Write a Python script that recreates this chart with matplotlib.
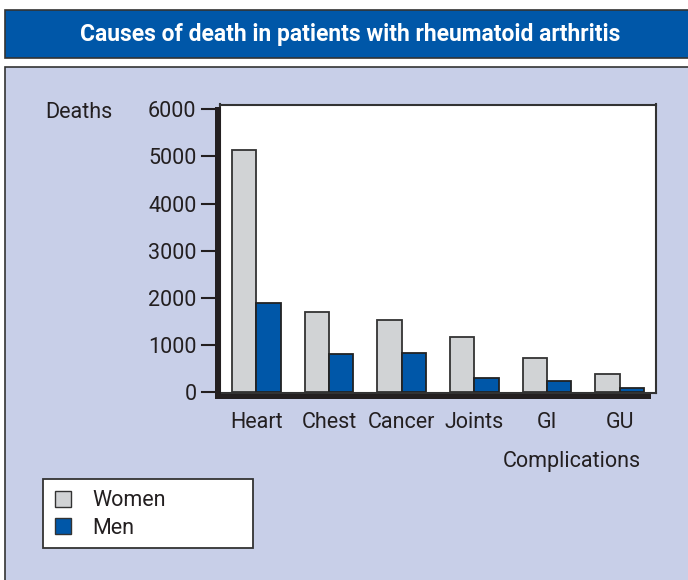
import matplotlib
matplotlib.use("Agg")
import matplotlib.pyplot as plt
from matplotlib.patches import Rectangle
import numpy as np

categories = ["Heart", "Chest", "Cancer", "Joints", "GI", "GU"]
women = [5140, 1700, 1540, 1170, 730, 390]
men = [1900, 820, 840, 310, 240, 100]
yticks = [0, 1000, 2000, 3000, 4000, 5000, 6000]
title = "Causes of death in patients with rheumatoid arthritis"

FONT = ["Roboto", "DejaVu Sans"]
plt.rcParams['font.family'] = FONT

W, H = 688, 580
fig = plt.figure(figsize=(W / 100, H / 100), dpi=100)
fig.patch.set_facecolor("white")

BLUE = "#0057a8"
GRAY = "#d1d3d5"
PANEL = "#c8cfe8"
DARK = "#231f20"

def fx(px):
    return px / W

def fy(py):
    return 1 - py / H

# title banner
fig.patches.append(Rectangle((fx(5), fy(58)), fx(690) - fx(5), fy(10) - fy(58),
                             transform=fig.transFigure, facecolor=BLUE,
                             edgecolor="#333333", linewidth=1.2, zorder=0))
fig.text(fx(350), fy(35), title, color="white", fontsize=16.5, fontweight="bold",
         ha="center", va="center", family=FONT, zorder=5)

# panel
fig.patches.append(Rectangle((fx(5), fy(582)), fx(690) - fx(5), fy(67) - fy(582),
                             transform=fig.transFigure, facecolor=PANEL,
                             edgecolor="#333333", linewidth=1.2, zorder=0))

# axes
left, right, top, bottom = 220, 656, 104.5, 393
ax = fig.add_axes([fx(left), fy(bottom), fx(right) - fx(left), fy(top) - fy(bottom)])
ax.set_zorder(2)
ax.set_facecolor("white")
for s in ax.spines.values():
    s.set_color("#333333")
    s.set_linewidth(1.5)

x = np.arange(len(categories))
bw = 0.335
ax.bar(x - bw / 2, women, width=bw, color=GRAY, edgecolor="#333333", linewidth=1.3, label="Women")
ax.bar(x + bw / 2, men, width=bw, color=BLUE, edgecolor="#222222", linewidth=1.3, label="Men")

ax.set_xlim(-0.5, len(categories) - 0.5)
ymax = 6000 * (bottom - top) / (392.3 - 109.3)
y0 = -6000 * (bottom - 392.3) / (392.3 - 109.3)
ax.set_ylim(y0, ymax + y0)
ax.set_yticks(yticks)
ax.set_yticklabels([str(t) for t in yticks], fontsize=15.5, color=DARK)
ax.tick_params(axis="y", length=0, pad=17)
ax.set_xticks(x)
ax.set_xticklabels(categories, fontsize=15.5, color=DARK)
ax.tick_params(axis="x", length=0, pad=14)

# thick shadowed left and bottom axis
fig.patches.append(Rectangle((fx(215), fy(399)), fx(221) - fx(215), fy(107) - fy(399),
                             transform=fig.transFigure, facecolor=DARK, edgecolor="none", zorder=10))
fig.patches.append(Rectangle((fx(215), fy(399)), fx(651) - fx(215), fy(393.5) - fy(399),
                             transform=fig.transFigure, facecolor=DARK, edgecolor="none", zorder=10))
# tick marks
fig.canvas.draw()
for t in yticks:
    yd = ax.transData.transform((0, t))[1]
    yp = H - yd
    fig.lines.append(plt.Line2D([fx(202), fx(215)], [fy(yp), fy(yp)],
                                transform=fig.transFigure, color=DARK, linewidth=1.5, zorder=10))

fig.text(fx(45), fy(113), "Deaths", fontsize=15.5, color=DARK, ha="left", va="center", zorder=5)
fig.text(fx(572), fy(462), "Complications", fontsize=15.5, color=DARK, ha="center", va="center", zorder=5)

# legend box
fig.patches.append(Rectangle((fx(43), fy(548)), fx(253) - fx(43), fy(479) - fy(548),
                             transform=fig.transFigure, facecolor="white",
                             edgecolor="#333333", linewidth=1.3, zorder=3))
for i, (lab, col) in enumerate([("Women", GRAY), ("Men", BLUE)]):
    yc = 499 + i * 27
    fig.patches.append(Rectangle((fx(55), fy(yc + 8)), fx(71) - fx(55), fy(yc - 8) - fy(yc + 8),
                                 transform=fig.transFigure, facecolor=col,
                                 edgecolor="#333333", linewidth=1.0, zorder=4))
    fig.text(fx(92), fy(yc + 2), lab, fontsize=15.5, color=DARK, ha="left", va="center", zorder=5)

fig.savefig("out.png", dpi=100)
